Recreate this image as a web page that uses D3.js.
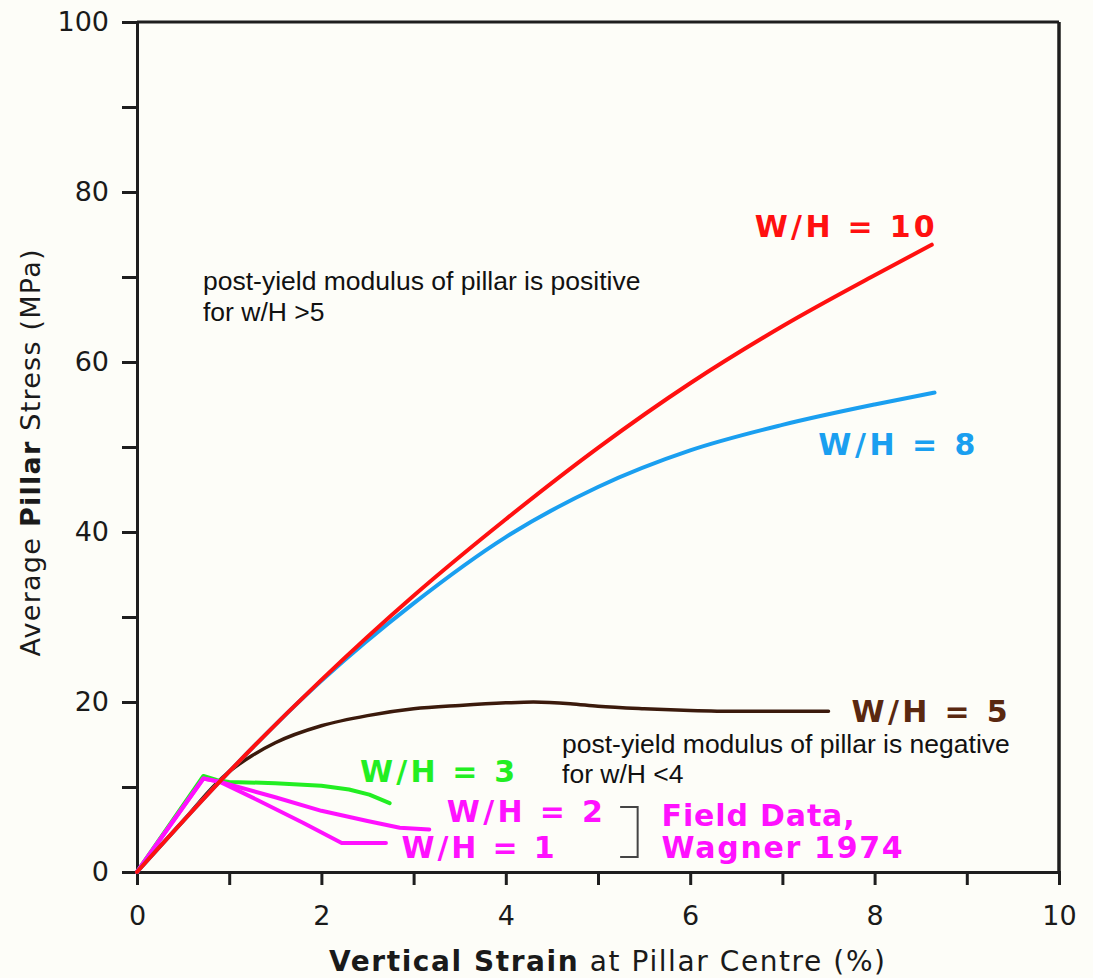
<!DOCTYPE html>
<html>
<head>
<meta charset="utf-8">
<script src="https://cdn.jsdelivr.net/npm/d3@7"></script>
<style>
  html, body { margin: 0; padding: 0; background: #fdfdf8; }
  svg { display: block; }
</style>
</head>
<body>
<svg id="chart" width="1093" height="978"></svg>
<script>
// ---------- data ----------
const xTicks = [0, 1, 2, 3, 4, 5, 6, 7, 8, 9, 10];
const xTickLabels = ["0", "", "2", "", "4", "", "6", "", "8", "", "10"];
const yTicks = [0, 10, 20, 30, 40, 50, 60, 70, 80, 90, 100];
const yTickLabels = ["0", "", "20", "", "40", "", "60", "", "80", "", "100"];

const wh10Strain = [0, 1, 2, 3, 4, 5, 6, 7, 8, 8.62];
const wh10Stress = [0, 11.8, 22.6, 32.5, 41.5, 49.9, 57.5, 64.2, 70.2, 73.8];

const wh8Strain = [0, 1, 2, 3, 4, 5, 6, 7, 8, 8.65];
const wh8Stress = [0, 11.8, 22.5, 31.6, 39.4, 45.3, 49.6, 52.6, 55.0, 56.4];

const wh5Strain = [0, 0.5, 0.85, 1, 1.25, 1.5, 2, 2.5, 3, 3.5, 4, 4.3, 4.7, 5, 5.5, 6, 6.5, 7, 7.5];
const wh5Stress = [0, 6, 10.3, 11.8, 13.7, 15.2, 17.2, 18.4, 19.2, 19.6, 19.9, 20.0, 19.8, 19.5, 19.2, 19.0, 18.9, 18.9, 18.9];

const wh3Strain = [0, 0.72, 0.87, 1.0, 1.5, 2.0, 2.3, 2.52, 2.74];
const wh3Stress = [0, 11.3, 10.8, 10.6, 10.45, 10.15, 9.7, 9.1, 8.1];

const wh2Strain = [0, 0.72, 0.9, 1.5, 2.0, 2.5, 2.85, 3.17];
const wh2Stress = [0, 11.0, 10.6, 8.8, 7.2, 6.0, 5.2, 5.0];

const wh1Strain = [0, 0.72, 0.9, 1.3, 1.8, 2.22, 2.7];
const wh1Stress = [0, 11.0, 10.6, 8.5, 5.8, 3.4, 3.4];

const seriesNames = ["W/H = 5", "W/H = 3", "W/H = 2", "W/H = 1", "W/H = 8", "W/H = 10"];
const seriesColors = ["#3b1a0c", "#22ee22", "#ff11ff", "#ff11ff", "#1a9ff0", "#ff1010"];
const seriesSmooth = [true, false, false, false, true, true];

// labels anchored in data units (left x, baseline y)
const curveLabels = ["W/H = 10", "W/H = 8", "W/H = 5", "W/H = 3", "W/H = 2", "W/H = 1", "Field Data,", "Wagner 1974"];
const curveLabelX = [6.70, 7.39, 7.75, 2.42, 3.36, 2.87, 5.69, 5.69];
const curveLabelY = [74.7, 49.1, 17.7, 10.6, 5.9, 1.65, 5.42, 1.65];
const curveLabelColors = ["#ff1010", "#1a9ff0", "#5a2810", "#22ee22", "#ff11ff", "#ff11ff", "#ff11ff", "#ff11ff"];
const curveLabelWidths = [180, 157, 156, 155, 156, 153, 193, 241];

const noteLines = ["post-yield modulus of pillar is positive", "for w/H >5",
                   "post-yield modulus of pillar is negative", "for w/H <4"];
const noteX = [0.716, 0.716, 4.61, 4.61];
const noteY = [68.5, 64.85, 14.05, 10.45];

// bracket grouping field-data curves (data units)
const bracketX = [5.24, 5.43];
const bracketY = [7.65, 1.76];

// ---------- drawing ----------
const svg = d3.select("#chart");
svg.append("rect").attr("width", 1093).attr("height", 978).attr("fill", "#fdfdf8");

const x = d3.scaleLinear().domain([0, 10]).range([137, 1059]);
const y = d3.scaleLinear().domain([0, 100]).range([872, 22]);

const axisColor = "#1e1e1e";
const tickFont = "'DejaVu Sans', Verdana, sans-serif";

// frame (top & right)
svg.append("line").attr("x1", x(0)).attr("x2", x(10)).attr("y1", y(100)).attr("y2", y(100))
  .attr("stroke", axisColor).attr("stroke-width", 3);
svg.append("line").attr("x1", x(10)).attr("x2", x(10)).attr("y1", y(100)).attr("y2", y(0))
  .attr("stroke", axisColor).attr("stroke-width", 3.5);

const xAxis = d3.axisBottom(x).tickValues(xTicks).tickSize(13).tickPadding(21)
  .tickFormat((d, i) => xTickLabels[i]);
const gx = svg.append("g").attr("transform", `translate(0,${y(0)})`).call(xAxis);

const yAxis = d3.axisLeft(y).tickValues(yTicks).tickSize(15).tickPadding(13)
  .tickFormat((d, i) => yTickLabels[i]);
const gy = svg.append("g").attr("transform", `translate(${x(0)},0)`).call(yAxis);

[gx, gy].forEach(g => {
  g.select(".domain").attr("stroke", axisColor).attr("stroke-width", 3);
  g.selectAll(".tick line").attr("stroke", axisColor).attr("stroke-width", 3);
  g.selectAll(".tick text").attr("fill", "#1a1a1a")
    .style("font-family", tickFont).style("font-size", "27px");
});

// curves
const strains = [wh5Strain, wh3Strain, wh2Strain, wh1Strain, wh8Strain, wh10Strain];
const stresses = [wh5Stress, wh3Stress, wh2Stress, wh1Stress, wh8Stress, wh10Stress];
const widths = [3.5, 4, 4, 4, 4, 4];
const smoothLine = d3.line().x(d => x(d[0])).y(d => y(d[1])).curve(d3.curveMonotoneX);
const straightLine = d3.line().x(d => x(d[0])).y(d => y(d[1])).curve(d3.curveLinear);

seriesNames.forEach((name, i) => {
  const pts = strains[i].map((s, j) => [s, stresses[i][j]]);
  svg.append("path").datum(pts)
    .attr("d", seriesSmooth[i] ? smoothLine : straightLine)
    .attr("fill", "none")
    .attr("stroke", seriesColors[i])
    .attr("stroke-width", widths[i])
    .attr("stroke-linejoin", "round")
    .attr("stroke-linecap", "round");
});

// bracket
svg.append("path")
  .attr("d", `M${x(bracketX[0])},${y(bracketY[0])} H${x(bracketX[1])} V${y(bracketY[1])} H${x(bracketX[0])}`)
  .attr("fill", "none").attr("stroke", "#444").attr("stroke-width", 2);

// curve labels
curveLabels.forEach((t, i) => {
  svg.append("text")
    .attr("x", x(curveLabelX[i])).attr("y", y(curveLabelY[i]))
    .attr("fill", curveLabelColors[i])
    .attr("textLength", curveLabelWidths[i]).attr("lengthAdjust", "spacing")
    .style("font-family", tickFont).style("font-weight", "bold").style("font-size", "30px")
    .text(t);
});

// notes
noteLines.forEach((t, i) => {
  svg.append("text")
    .attr("x", x(noteX[i])).attr("y", y(noteY[i]))
    .attr("fill", "#111")
    .style("font-family", "'Liberation Sans', Arial, sans-serif").style("font-size", "26.5px")
    .text(t);
});

// axis titles
const xt = svg.append("text")
  .attr("x", (x(0) + x(10)) / 2 + 9).attr("y", 971)
  .attr("text-anchor", "middle")
  .attr("fill", "#1a1a1a")
  .attr("textLength", 556).attr("lengthAdjust", "spacing")
  .style("font-family", tickFont).style("font-size", "28px");
xt.append("tspan").style("font-weight", "bold").text("Vertical Strain");
xt.append("tspan").text(" at Pillar Centre (%)");

const yt = svg.append("text")
  .attr("transform", `translate(40,${453}) rotate(-90)`)
  .attr("text-anchor", "middle")
  .attr("fill", "#1a1a1a")
  .attr("textLength", 407).attr("lengthAdjust", "spacing")
  .style("font-family", tickFont).style("font-size", "27px");
yt.append("tspan").text("Average ");
yt.append("tspan").style("font-weight", "bold").text("Pillar");
yt.append("tspan").text(" Stress (MPa)");
</script>
</body>
</html>
